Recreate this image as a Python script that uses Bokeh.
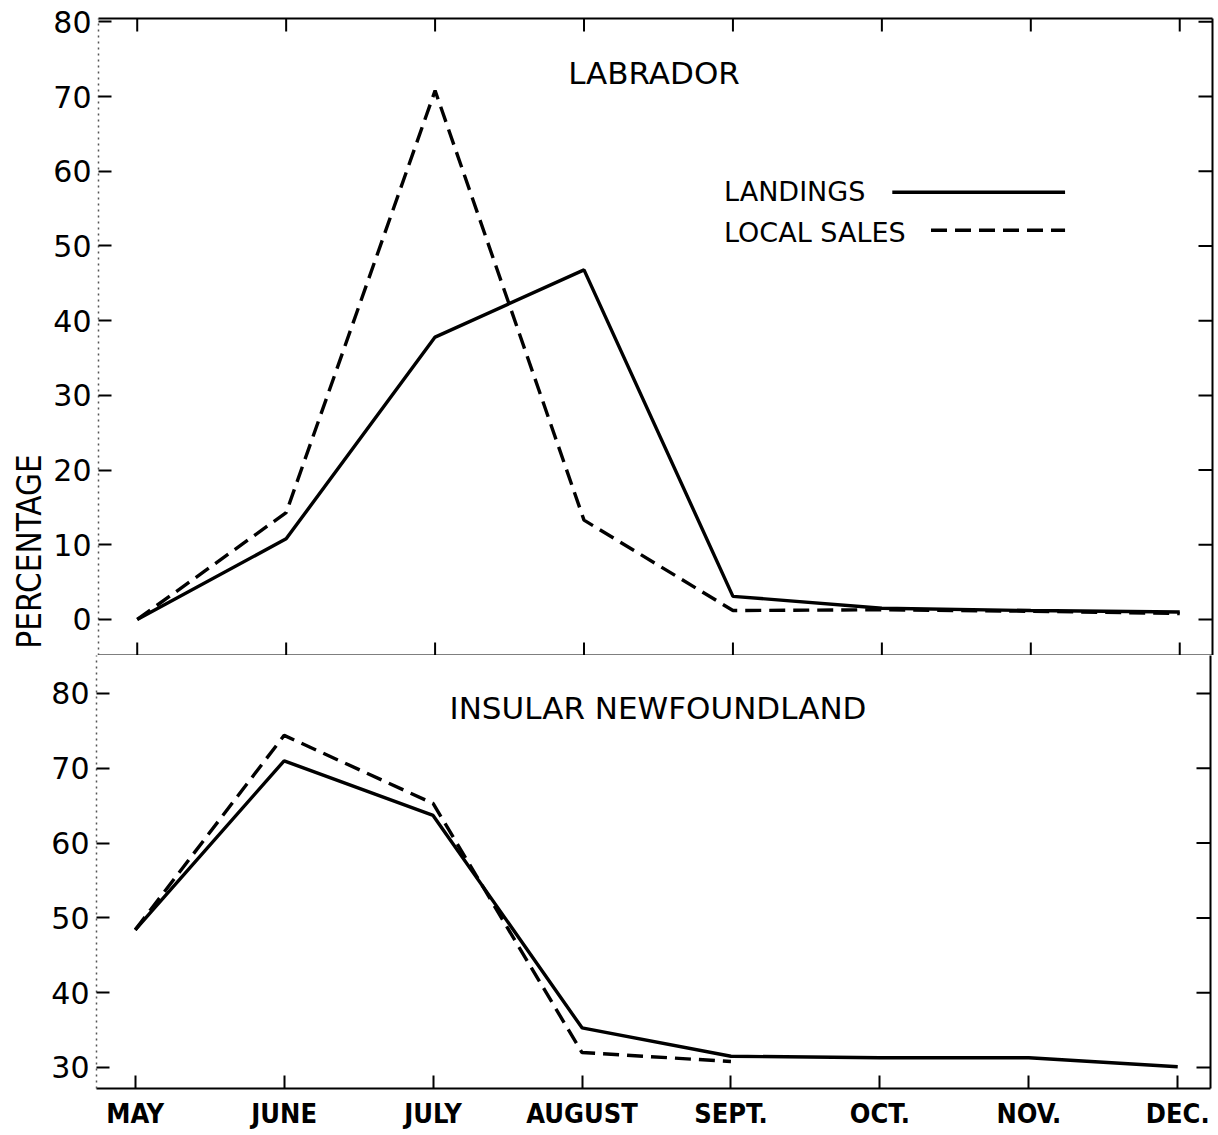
import math
from bokeh.plotting import figure
from bokeh.layouts import column, row
from bokeh.models import Range1d, LinearAxis, FixedTicker, Label, CustomJSTickFormatter
from bokeh.embed import file_html
from bokeh.resources import INLINE

months = ["MAY", "JUNE", "JULY", "AUGUST", "SEPT.", "OCT.", "NOV.", "DEC."]
xpos = list(range(len(months)))

lab_landings = [0.0, 10.8, 37.8, 46.8, 3.1, 1.5, 1.2, 1.0]
lab_sales = [0.0, 14.3, 70.8, 13.3, 1.2, 1.3, 1.1, 0.8]
nfld_landings = [48.4, 71.0, 63.7, 35.3, 31.5, 31.3, 31.3, 30.1]
nfld_sales = [48.4, 74.4, 65.3, 32.0, 30.8, float("nan"), float("nan"), float("nan")]

lab_ticks = [0, 10, 20, 30, 40, 50, 60, 70, 80]
nfld_ticks = [30, 40, 50, 60, 70, 80]

FONT = "DejaVu Sans"
COND = "DejaVu Sans Condensed"
LW = 3.4
DASH = "16 8"
XR = (-0.26, 7.22)
STRIP_W = 50
FRAME_W = 1114


def style_left(ax, ticks):
    ax.ticker = FixedTicker(ticks=ticks)
    ax.axis_line_dash = "2 4"
    ax.axis_line_color = "#555555"
    ax.axis_line_width = 1.5
    ax.major_tick_in = 13
    ax.major_tick_out = 0
    ax.major_tick_line_width = 2
    ax.major_tick_line_color = "black"
    ax.minor_tick_line_color = None
    ax.major_label_text_font = FONT
    ax.major_label_text_font_size = "30px"
    ax.major_label_text_color = "black"
    ax.major_label_standoff = 7


def plain_axis():
    ax = LinearAxis(ticker=FixedTicker(ticks=[]))
    ax.axis_line_width = 2
    ax.axis_line_color = "black"
    ax.major_tick_line_color = None
    ax.minor_tick_line_color = None
    ax.major_label_standoff = 0
    return ax


def make_fig(frame_h, y0, y1, border_left, border_top, border_bottom):
    p = figure(frame_width=FRAME_W, frame_height=frame_h,
               x_range=Range1d(*XR), y_range=Range1d(y0, y1),
               output_backend="svg", toolbar_location=None,
               min_border_left=border_left, min_border_right=6,
               min_border_top=border_top, min_border_bottom=border_bottom,
               x_axis_location=None, y_axis_location=None)
    p.outline_line_color = None
    p.xgrid.visible = False
    p.ygrid.visible = False
    p.background_fill_color = "white"
    p.border_fill_color = "white"
    return p


def edge_ticks(p, yticks, top=True, bottom=True):
    xs, ys = XR, (p.y_range.start, p.y_range.end)
    if top:
        p.scatter(xpos, [ys[1]] * len(xpos), marker="dash", angle=math.pi / 2,
                  size=26, line_color="black", line_width=2)
    if bottom:
        p.scatter(xpos, [ys[0]] * len(xpos), marker="dash", angle=math.pi / 2,
                  size=26, line_color="black", line_width=2)
    p.scatter([xs[1]] * len(yticks), yticks, marker="dash",
              size=28, line_color="black", line_width=2)


# ---------------- top panel: Labrador ----------------
p1 = make_fig(637, -4.82, 80.45, 96 - STRIP_W, 18, 0)
ly = LinearAxis()
style_left(ly, lab_ticks)
p1.add_layout(ly, "left")
p1.add_layout(plain_axis(), "right")
p1.add_layout(plain_axis(), "above")
p1.add_layout(plain_axis(), "below")
edge_ticks(p1, lab_ticks, top=True, bottom=True)

p1.line(xpos, lab_landings, line_color="black", line_width=LW)
p1.line(xpos, lab_sales, line_color="black", line_width=LW, line_dash=DASH)

p1.add_layout(Label(x=3.47, y=73.2, text="LABRADOR", text_font=FONT,
                    text_font_size="31px", text_align="center",
                    text_baseline="middle", text_color="black"))
p1.add_layout(Label(x=3.94, y=57.3, text="LANDINGS", text_font=FONT,
                    text_font_size="27px", text_align="left",
                    text_baseline="middle", text_color="black"))
p1.add_layout(Label(x=3.94, y=51.8, text="LOCAL SALES", text_font=FONT,
                    text_font_size="27px", text_align="left",
                    text_baseline="middle", text_color="black"))
p1.segment(x0=[5.07], y0=[57.2], x1=[6.23], y1=[57.2], line_color="black", line_width=LW)
p1.segment(x0=[5.33], y0=[52.1], x1=[6.23], y1=[52.1], line_color="black",
           line_width=LW, line_dash=DASH)

# narrow strip at the left for the rotated y-axis title
strip = figure(frame_width=STRIP_W, frame_height=637,
               x_range=Range1d(0, STRIP_W), y_range=Range1d(-4.82, 80.45),
               output_backend="svg", toolbar_location=None,
               min_border_left=0, min_border_right=0,
               min_border_top=18, min_border_bottom=0,
               x_axis_location=None, y_axis_location=None)
strip.outline_line_color = None
strip.xgrid.visible = False
strip.ygrid.visible = False
strip.add_layout(Label(x=29, y=9.1, text="PERCENTAGE", text_font=COND,
                       text_font_size="33px", text_align="center", angle=math.pi / 2,
                       text_baseline="middle", text_color="black"))

# ---------------- bottom panel: Insular Newfoundland ----------------
p2 = make_fig(433, 27.19, 85.08, 96, 0, 45)
ly2 = LinearAxis()
style_left(ly2, nfld_ticks)
p2.add_layout(ly2, "left")
p2.add_layout(plain_axis(), "right")
edge_ticks(p2, nfld_ticks, top=False, bottom=False)

bx2 = LinearAxis()
bx2.ticker = FixedTicker(ticks=xpos)
bx2.formatter = CustomJSTickFormatter(args=dict(labels=months),
                                      code="return labels[Math.round(tick)] || '';")
bx2.axis_line_width = 2
bx2.axis_line_color = "black"
bx2.major_tick_in = 13
bx2.major_tick_out = 0
bx2.major_tick_line_width = 2
bx2.major_tick_line_color = "black"
bx2.minor_tick_line_color = None
bx2.major_label_text_font = COND
bx2.major_label_text_font_style = "bold"
bx2.major_label_text_font_size = "27px"
bx2.major_label_text_color = "black"
bx2.major_label_standoff = 9
p2.add_layout(bx2, "below")

p2.line(xpos, nfld_landings, line_color="black", line_width=LW)
p2.line(xpos, nfld_sales, line_color="black", line_width=LW, line_dash=DASH)

p2.add_layout(Label(x=3.51, y=78.1, text="INSULAR NEWFOUNDLAND", text_font=FONT,
                    text_font_size="31px", text_align="center",
                    text_baseline="middle", text_color="black"))

layout = column(row(strip, p1, spacing=0), p2, spacing=0)
open("out.html", "w").write(file_html(layout, INLINE))
